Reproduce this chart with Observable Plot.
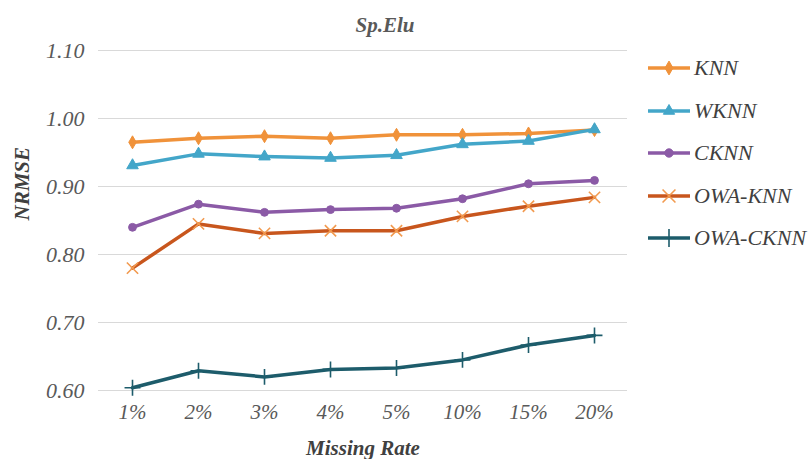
<!DOCTYPE html>
<html>
<head>
<meta charset="utf-8">
<script src="https://cdn.jsdelivr.net/npm/d3@7"></script>
<script src="https://cdn.jsdelivr.net/npm/@observablehq/plot@0.6"></script>
<style>
  html, body { margin: 0; padding: 0; background: #fff; }
  #wrap { position: relative; width: 809px; height: 459px; overflow: hidden; font-family: 'Liberation Serif'; }
  #title { position: absolute; left: 0; width: 770px; top: 13px; text-align: center; font-family: 'Liberation Serif'; font-size: 21px; font-weight: bold; font-style: italic; color: #595959; }
  #legend { position: absolute; left: 646px; top: 47px; }
  .row { display: flex; align-items: center; height: 42.5px; font-family: 'Liberation Serif'; font-size: 22px; font-style: italic; color: #404040; }
  .row svg { margin-right: 2px; }
  #chart { position: absolute; left: 0; top: 0; }
  #chart svg text { font-family: 'Liberation Serif'; }
</style>
</head>
<body>
<div id="wrap">
  <div id="chart"></div>
  <div id="title">Sp.Elu</div>
  <div id="legend"></div>
</div>
<script>
const rates = ["1%", "2%", "3%", "4%", "5%", "10%", "15%", "20%"];
const seriesNames = ["KNN", "WKNN", "CKNN", "OWA-KNN", "OWA-CKNN"];
const knn     = [0.965, 0.971, 0.974, 0.971, 0.976, 0.976, 0.978, 0.983];
const wknn    = [0.931, 0.948, 0.944, 0.942, 0.946, 0.962, 0.967, 0.984];
const cknn    = [0.840, 0.874, 0.862, 0.866, 0.868, 0.882, 0.904, 0.909];
const owaKnn  = [0.780, 0.845, 0.831, 0.835, 0.835, 0.856, 0.871, 0.884];
const owaCknn = [0.604, 0.629, 0.620, 0.631, 0.633, 0.645, 0.667, 0.681];
const yTicks  = [0.60, 0.70, 0.80, 0.90, 1.00, 1.10];

const colors  = ["#f0923a", "#43a6c9", "#8b5aa6", "#c8561d", "#1d5c6b"];
const mcolors = ["#f0923a", "#43a6c9", "#8b5aa6", "#f29a4f", "#1d5c6b"];
const symbols = ["diamond", "triangle", "circle", "times", "plus"];
const sizes   = [40, 48, 40, 70, 70];

const allValues = [knn, wknn, cknn, owaKnn, owaCknn];
const table = [];
seriesNames.forEach((s, i) => rates.forEach((r, j) => table.push({series: s, rate: r, value: allValues[i][j]})));

const chart = Plot.plot({
  width: 809,
  height: 459,
  marginLeft: 98,
  marginRight: 182,
  marginTop: 50,
  marginBottom: 69,
  style: { fontFamily: "'Liberation Serif'", fontSize: "20px", fontStyle: "italic", color: "#595959", background: "transparent" },
  x: { domain: rates, type: "point", padding: 0.5, label: null },
  y: { domain: [0.6, 1.1], ticks: yTicks, label: null },
  color: { domain: seriesNames, range: colors },
  marks: [
    Plot.gridY(yTicks, { stroke: "#d9d9d9", strokeOpacity: 1, strokeWidth: 1.2 }),
    Plot.axisY(yTicks, { tickSize: 0, tickPadding: 14, tickFormat: d3.format(".2f"), fontSize: 22, fill: "#595959" }),
    Plot.axisX({ tickSize: 0, tickPadding: 14, fontSize: 21, fill: "#595959" }),
    Plot.text(["NRMSE"], { frameAnchor: "left", dx: -76, rotate: -90, fontWeight: "bold", fontSize: 21, fill: "#404040" }),
    Plot.text(["Missing Rate"], { frameAnchor: "bottom", dy: 64, fontWeight: "bold", fontSize: 21, fill: "#404040" }),
    Plot.line(table, { x: "rate", y: "value", z: "series", stroke: "series", strokeWidth: 3.5, strokeLinejoin: "round" }),
    ...seriesNames.map((s, i) => Plot.dot(table.filter(d => d.series === s), {
      x: "rate", y: "value", symbol: () => symbols[i], r: Math.sqrt(sizes[i] / Math.PI) * 1.1,
      fill: ["times", "plus"].includes(symbols[i]) ? "none" : mcolors[i],
      stroke: mcolors[i], strokeWidth: ["times", "plus"].includes(symbols[i]) ? 1.6 : 1
    }))
  ]
});
document.getElementById("chart").appendChild(chart);

// Legend
const legend = d3.select("#legend");
seriesNames.forEach((s, i) => {
  const row = legend.append("div").attr("class", "row");
  const svg = row.append("svg").attr("width", 46).attr("height", 24);
  svg.append("line").attr("x1", 2).attr("x2", 44).attr("y1", 12).attr("y2", 12)
    .attr("stroke", colors[i]).attr("stroke-width", 3.5);
  const open = ["times", "plus"].includes(symbols[i]);
  const shape = { diamond: d3.symbolDiamond, triangle: d3.symbolTriangle, circle: d3.symbolCircle, times: d3.symbolTimes, plus: d3.symbolPlus }[symbols[i]];
  svg.append("path").attr("transform", "translate(23,12)")
    .attr("d", d3.symbol(shape, open ? 110 : 55)())
    .attr("fill", open ? "none" : mcolors[i])
    .attr("stroke", mcolors[i]).attr("stroke-width", open ? 1.6 : 1);
  row.append("span").text(s);
});
</script>
</body>
</html>
